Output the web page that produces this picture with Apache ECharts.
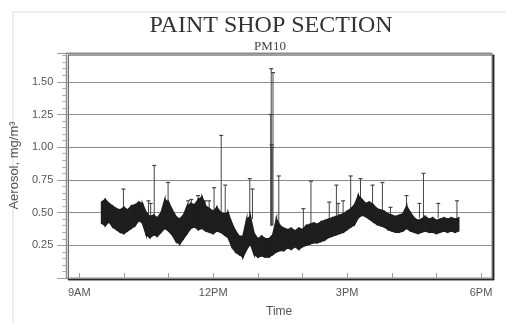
<!DOCTYPE html>
<html>
<head>
<meta charset="utf-8">
<script src="https://cdn.jsdelivr.net/npm/echarts@6/dist/echarts.min.js"></script>
<style>
  html, body { margin: 0; padding: 0; background: #fff; }
  #chart { width: 506px; height: 323px; }
</style>
</head>
<body>
<div id="chart"></div>
<script>
// samples every 5 minutes starting 9:30
const sampleStart = 9.5;
const sampleStep = 5 / 60;

// band edges (mg/m3)
const bandUpper = [
  0.58, 0.60, 0.57, 0.55, 0.53, 0.52, 0.54, 0.52, 0.55, 0.56,
  0.58, 0.57, 0.50, 0.47, 0.48, 0.46, 0.50, 0.60, 0.58, 0.52,
  0.47, 0.45, 0.48, 0.55, 0.57, 0.56, 0.60, 0.62, 0.55, 0.53,
  0.51, 0.54, 0.50, 0.49, 0.50, 0.42, 0.36, 0.32, 0.32, 0.45,
  0.47, 0.34, 0.30, 0.32, 0.30, 0.30, 0.33, 0.45, 0.40, 0.38,
  0.37, 0.38, 0.36, 0.38, 0.37, 0.40, 0.41, 0.42, 0.41, 0.43,
  0.44, 0.45, 0.46, 0.47, 0.48, 0.49, 0.51, 0.53, 0.56, 0.63,
  0.60, 0.57, 0.58, 0.56, 0.53, 0.52, 0.51, 0.49, 0.48, 0.47,
  0.48, 0.49, 0.55, 0.50, 0.46, 0.44, 0.45, 0.47, 0.45, 0.46,
  0.44, 0.45, 0.46, 0.45, 0.46, 0.45, 0.46
];
const bandLower = [
  0.42, 0.40, 0.43, 0.39, 0.37, 0.35, 0.34, 0.36, 0.38, 0.40,
  0.44, 0.42, 0.33, 0.31, 0.33, 0.32, 0.35, 0.38, 0.36, 0.33,
  0.28, 0.26, 0.30, 0.34, 0.38, 0.39, 0.37, 0.38, 0.36, 0.35,
  0.34, 0.36, 0.35, 0.33, 0.31, 0.24, 0.20, 0.18, 0.16, 0.22,
  0.26, 0.18, 0.16, 0.17, 0.16, 0.16, 0.18, 0.20, 0.21, 0.21,
  0.23, 0.22, 0.24, 0.22, 0.24, 0.25, 0.26, 0.27, 0.27, 0.28,
  0.29, 0.31, 0.32, 0.33, 0.34, 0.35, 0.37, 0.39, 0.41, 0.46,
  0.48, 0.47, 0.45, 0.43, 0.41, 0.40, 0.39, 0.37, 0.36, 0.35,
  0.35, 0.36, 0.38, 0.36, 0.35, 0.34, 0.35, 0.36, 0.35, 0.35,
  0.34, 0.35, 0.36, 0.35, 0.36, 0.35, 0.36
];

// isolated peaks: hour of day, foot, top
const spikeTimes = [9.99, 10.55, 10.60, 10.68, 10.99, 11.44, 11.51, 11.66, 11.82, 11.91,
  12.02, 12.18, 12.27, 12.82, 12.88, 13.29, 13.30, 13.31, 13.32, 13.34,
  13.47, 14.02, 14.19, 14.60, 14.76, 14.80, 14.91, 15.08, 15.30, 15.57,
  15.79, 15.97, 16.33, 16.62, 16.71, 17.04, 17.46];
const spikeFoot = [0.52, 0.48, 0.46, 0.47, 0.55, 0.55, 0.55, 0.58, 0.52, 0.50,
  0.50, 0.50, 0.50, 0.45, 0.45, 0.40, 0.40, 0.40, 0.40, 0.40,
  0.42, 0.37, 0.40, 0.46, 0.48, 0.48, 0.49, 0.52, 0.58, 0.52,
  0.51, 0.48, 0.50, 0.46, 0.46, 0.46, 0.46];
const spikeTop = [0.68, 0.59, 0.57, 0.86, 0.73, 0.59, 0.60, 0.63, 0.59, 0.59,
  0.69, 1.09, 0.71, 0.76, 0.68, 1.25, 1.60, 1.02, 1.00, 1.57,
  0.78, 0.53, 0.74, 0.58, 0.71, 0.57, 0.59, 0.78, 0.76, 0.71,
  0.73, 0.54, 0.63, 0.57, 0.80, 0.57, 0.59];

const hourTicks = [9, 10, 11, 12, 13, 14, 15, 16, 17, 18];
const hourLabels = [9, 12, 15, 18];
const labelText = { 9: "9AM", 12: "12PM", 15: "3PM", 18: "6PM" };

const times = bandUpper.map((_, i) => sampleStart + i * sampleStep);
// one item per segment: t0, low0, high0, t1, low1, high1
const bandData = times.slice(0, -1).map((t, i) => [
  t, bandLower[i], bandUpper[i], times[i + 1], bandLower[i + 1], bandUpper[i + 1]
]);
const spikeData = spikeTimes.map((t, i) => [t, spikeFoot[i], spikeTop[i]]);

const chart = echarts.init(document.getElementById("chart"));
const ink = "#1e1e1e";
const muted = "#555";

chart.setOption({
  backgroundColor: "#fff",
  animation: false,
  title: [
    {
      text: "PAINT SHOP SECTION",
      left: 266,
      top: 9,
      textAlign: "center",
      textStyle: { fontFamily: "Liberation Serif", fontSize: 24, fontWeight: "normal", color: "#333" }
    },
    {
      text: "PM10",
      left: 265,
      top: 35,
      textAlign: "center",
      textStyle: { fontFamily: "Liberation Serif", fontSize: 13, fontWeight: "normal", color: "#444" }
    }
  ],
  graphic: [
    {
      type: "rect",
      shape: { x: 13, y: 12, width: 500, height: 320 },
      style: { fill: "none", stroke: "#dcdcdc", lineWidth: 1 },
      z: -1
    }
  ],
  grid: {
    left: 64,
    top: 53,
    right: 14,
    bottom: 35,
    show: true,
    backgroundColor: "#fff",
    borderColor: "#8a8a8a",
    borderWidth: 1,
    shadowColor: "rgba(0,0,0,0.75)",
    shadowBlur: 0,
    shadowOffsetX: 2,
    shadowOffsetY: 2
  },
  xAxis: {
    type: "value",
    min: 8.7105,
    max: 18.245,
    name: "Time",
    nameLocation: "middle",
    nameGap: 28,
    nameTextStyle: { fontFamily: "Liberation Sans", fontSize: 12, color: muted },
    axisLine: { show: true, lineStyle: { color: "#8a8a8a" } },
    axisTick: { show: true, inside: true, length: 5, customValues: hourTicks, lineStyle: { color: "#999" } },
    axisLabel: {
      customValues: hourLabels,
      margin: 9,
      fontFamily: "Liberation Sans",
      fontSize: 11,
      color: muted,
      formatter: (v) => labelText[v] || ""
    },
    splitLine: { show: false }
  },
  yAxis: {
    type: "value",
    min: 0,
    max: 1.72,
    interval: 0.25,
    name: "Aerosol, mg/m³",
    nameLocation: "middle",
    nameGap: 44,
    nameTextStyle: { fontFamily: "Liberation Sans", fontSize: 13, color: muted },
    axisLine: { show: true, lineStyle: { color: "#8a8a8a" } },
    axisTick: { show: true, inside: false, length: 9, lineStyle: { color: "#999" } },
    minorTick: { show: true, splitNumber: 5, length: 4, lineStyle: { color: "#aaa" } },
    axisLabel: {
      margin: 13,
      fontFamily: "Liberation Sans",
      fontSize: 11,
      color: muted,
      showMaxLabel: false,
      formatter: (v) => (v === 0 ? "" : v.toFixed(2))
    },
    splitLine: { show: true, lineStyle: { color: "#8c8c8c", width: 1 } }
  },
  series: [
    {
      type: "custom",
      name: "peaks",
      data: spikeData,
      z: 3,
      renderItem: (params, api) => {
        const foot = api.coord([api.value(0), api.value(1)]);
        const top = api.coord([api.value(0), api.value(2)]);
        return {
          type: "group",
          children: [
            {
              type: "line",
              shape: { x1: foot[0], y1: foot[1], x2: top[0], y2: top[1] },
              style: { stroke: "#444", lineWidth: 1 }
            },
            {
              type: "line",
              shape: { x1: top[0] - 2, y1: top[1], x2: top[0] + 2, y2: top[1] },
              style: { stroke: "#444", lineWidth: 1.2 }
            }
          ]
        };
      }
    },
    {
      type: "custom",
      name: "PM10",
      data: bandData,
      z: 4,
      renderItem: (params, api) => {
        const a = api.coord([api.value(0), api.value(2)]);
        const b = api.coord([api.value(3), api.value(5)]);
        const c = api.coord([api.value(3), api.value(4)]);
        const d = api.coord([api.value(0), api.value(1)]);
        return {
          type: "polygon",
          shape: { points: [a, b, c, d] },
          style: { fill: ink, stroke: ink, lineWidth: 1.5 }
        };
      }
    }
  ]
});
</script>
</body>
</html>
